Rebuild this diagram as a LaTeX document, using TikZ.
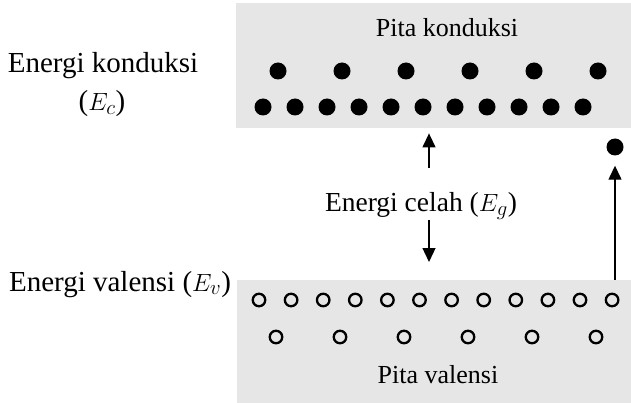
\documentclass[tikz,border=0pt]{standalone}
\usepackage{fontspec}
\setmainfont{Liberation Serif}
\usetikzlibrary{arrows.meta}
\definecolor{bandgray}{RGB}{230,230,230}
\tikzset{
  band/.style={fill=bandgray, draw=none, anchor=north west, inner sep=0pt},
  electron/.style={circle, fill=black, inner sep=0pt, minimum size=17pt},
  hole/.style={circle, draw=black, line width=2.3pt, inner sep=0pt, minimum size=12.5pt},
  lbl/.style={font=\fontsize{26}{30}\selectfont, inner sep=0pt, anchor=base},
  biglbl/.style={lbl, font=\fontsize{29}{34}\selectfont},
  gaparrow/.style={-{Triangle[width=13pt,length=14pt]}, line width=1.3pt},
}
\begin{document}
\begin{tikzpicture}[x=1pt,y=-1pt]
\useasboundingbox (0,0) rectangle (631,403);
% energy bands
\node[band, minimum width=395pt, minimum height=125pt] (cband) at (236,3) {};
\node[band, minimum width=395pt, minimum height=123pt] (vband) at (237,280) {};
% band titles
\node[lbl] (ctitle) at (447,37) {Pita konduksi};
\node[lbl] (vtitle) at (438,383) {Pita valensi};
% electrons in the conduction band
\foreach \i in {0,...,5} \node[electron] (ea\i) at (278+64*\i,71) {};
\foreach \i in {0,...,10} \node[electron] (eb\i) at (263+32*\i,107) {};
% holes in the valence band
\foreach \i in {0,...,11} \node[hole] (ha\i) at (259+32.1*\i,300) {};
\foreach \i in {0,...,5} \node[hole] (hb\i) at (276+64*\i,337) {};
% excited electron
\node[electron] (free) at (615,147) {};
% level labels
\node[biglbl] (ec1) at (103,73) {Energi konduksi};
\node[biglbl] (ec2) at (102,111) {($E_c$)};
\node[biglbl] (ev) at (120,291) {Energi valensi ($E_v$)};
\node[lbl, font=\fontsize{27.5}{32}\selectfont] (eg) at (421,212) {Energi celah ($E_g$)};
% gap arrows
\coordinate (egtop) at (429,168);
\coordinate (egbot) at (429,220);
\draw[gaparrow, shorten >=5pt] (egtop) -- (egtop |- cband.south);
\draw[gaparrow, shorten >=18pt] (egbot) -- (egbot |- vband.north);
% excitation arrow
\draw[gaparrow, shorten >=10pt] (free |- vband.north) -- (free);
\end{tikzpicture}
\end{document}
